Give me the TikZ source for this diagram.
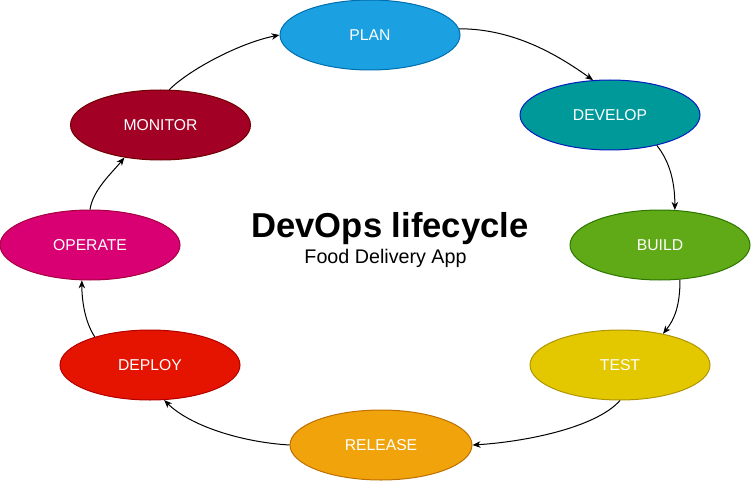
\documentclass[tikz,border=0pt]{standalone}
\usepackage{fontspec}
\setmainfont{Liberation Sans}
\usetikzlibrary{shapes.geometric,arrows.meta}
\definecolor{planF}{HTML}{1BA1E2}\definecolor{planD}{HTML}{006EAF}
\definecolor{devF}{HTML}{009999}\definecolor{devD}{HTML}{001DBC}
\definecolor{buildF}{HTML}{60A917}\definecolor{buildD}{HTML}{2D7600}
\definecolor{testF}{HTML}{E3C800}\definecolor{testD}{HTML}{B09500}
\definecolor{relF}{HTML}{F0A30A}\definecolor{relD}{HTML}{BD7000}
\definecolor{depF}{HTML}{E51400}\definecolor{depD}{HTML}{B20000}
\definecolor{opF}{HTML}{D80073}\definecolor{opD}{HTML}{A50040}
\definecolor{monF}{HTML}{A20025}\definecolor{monD}{HTML}{6F0000}
\tikzset{
  phase/.style={ellipse, minimum width=180pt, minimum height=70pt, inner sep=0pt,
    line width=1pt, text=white, font=\fontsize{15.7}{18}\selectfont},
  flow/.style={line width=1pt, -{Stealth[length=8pt,width=6.5pt,inset=2.5pt]}},
}
\begin{document}
\begin{tikzpicture}[x=1pt,y=-1pt]
\useasboundingbox (0,0) rectangle (751,481);
\node[phase, fill=planF, draw=planD] (plan) at (370,35) {PLAN};
\node[phase, fill=devF, draw=devD] (develop) at (610,115) {DEVELOP};
\node[phase, fill=buildF, draw=buildD] (build) at (660,245) {BUILD};
\node[phase, fill=testF, draw=testD] (test) at (620,365) {TEST};
\node[phase, fill=relF, draw=relD, minimum width=182pt] (release) at (381,445) {RELEASE};
\node[phase, fill=depF, draw=depD] (deploy) at (150,365) {DEPLOY};
\node[phase, fill=opF, draw=opD] (operate) at (90,245) {OPERATE};
\node[phase, fill=monF, draw=monD] (monitor) at (160.5,125) {MONITOR};
\node[anchor=base, font=\fontsize{34.6}{40}\selectfont\bfseries] (title) at (390,237) {DevOps lifecycle};
\node[anchor=base, font=\fontsize{19.7}{23}\selectfont] (sub) at (385.5,263) {Food Delivery App};
\draw[flow] (plan.4) .. controls +(55,0) and +(-35,-25) .. (develop.116);
\draw[flow] (develop.-33) .. controls +(12,15) and +(0,-30) .. (build.67);
\draw[flow] (build.-60) .. controls +(0,25) and +(12,-15) .. (test.36);
\draw[flow] (test.-90) .. controls +(-25,28) and +(50,-3) .. (release.0);
\draw[flow] (release.180) .. controls +(-50,-3) and +(25,25) .. (deploy.-68);
\draw[flow] (deploy.153) .. controls +(-10,-15) and +(0,20) .. (operate.-103);
\draw[flow] (operate.90) .. controls +(3,-20) and +(-12,15) .. (monitor.-138);
\draw[flow] (monitor.76) .. controls +(20,-20) and +(-40,8) .. (plan.180);
\end{tikzpicture}
\end{document}
